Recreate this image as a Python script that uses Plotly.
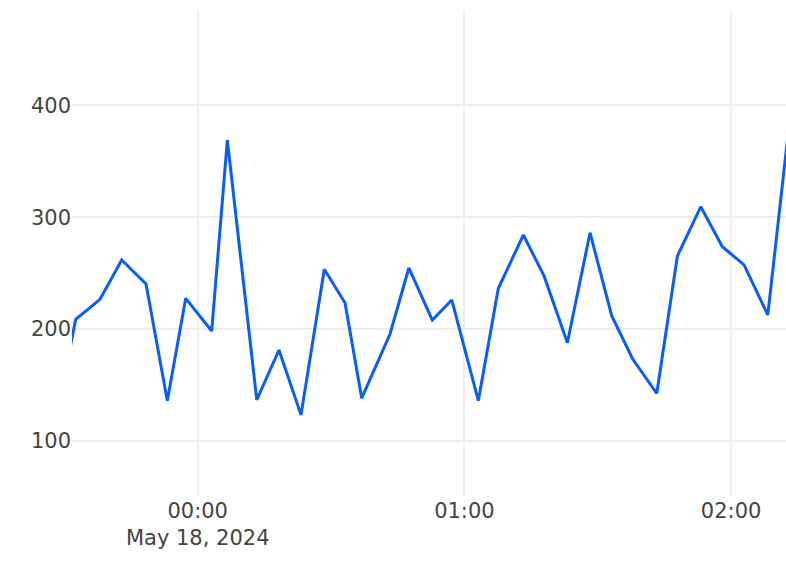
import plotly.graph_objects as go

times = [
    "2024-05-17 23:27:36", "2024-05-17 23:32:33", "2024-05-17 23:38:01", "2024-05-17 23:42:54",
    "2024-05-17 23:48:22", "2024-05-17 23:53:10", "2024-05-17 23:57:18", "2024-05-18 00:03:09",
    "2024-05-18 00:06:40", "2024-05-18 00:13:17", "2024-05-18 00:18:17", "2024-05-18 00:23:14",
    "2024-05-18 00:28:29", "2024-05-18 00:33:08", "2024-05-18 00:36:54", "2024-05-18 00:43:16",
    "2024-05-18 00:47:30", "2024-05-18 00:52:47", "2024-05-18 00:57:09", "2024-05-18 01:03:08",
    "2024-05-18 01:07:38", "2024-05-18 01:13:16", "2024-05-18 01:17:55", "2024-05-18 01:23:10",
    "2024-05-18 01:28:16", "2024-05-18 01:33:09", "2024-05-18 01:37:53", "2024-05-18 01:43:17",
    "2024-05-18 01:47:55", "2024-05-18 01:53:11", "2024-05-18 01:58:02", "2024-05-18 02:02:55",
    "2024-05-18 02:08:15", "2024-05-18 02:13:02",
]
values = [
    108, 208.8, 226.6, 261.8, 240.3, 136.0, 227.5, 198.3,
    369.0, 136.7, 181.3, 123.3, 253.4, 223.6, 138.2, 195.6,
    254.6, 208.1, 226.0, 136.0, 236.5, 284.1, 247.5, 187.8,
    286.1, 211.7, 173.0, 142.6, 265.3, 309.4, 273.6, 257.3,
    212.6, 382,
]

x_range = ["2024-05-17 23:31:43", "2024-05-18 02:12:21"]
y_range = [50.8, 485.2]

fig = go.Figure(go.Scatter(
    x=times, y=values, mode="lines",
    line=dict(color="#0a5ff0", width=3),
    showlegend=False,
))

fig.update_layout(
    width=786, height=582,
    margin=dict(l=72, r=0, t=10, b=86, autoexpand=False),
    paper_bgcolor="white", plot_bgcolor="white",
    font=dict(family="Verdana, DejaVu Sans, sans-serif", size=21, color="#444"),
)
fig.update_xaxes(
    range=x_range, type="date",
    tick0="2024-05-18 00:00:00", dtick=3600000,
    showgrid=True, gridcolor="#eeeeee", gridwidth=2,
    zeroline=False, showline=False, ticks="", automargin=False,
)
fig.update_yaxes(
    range=y_range, dtick=100,
    showgrid=True, gridcolor="#eeeeee", gridwidth=2,
    zeroline=False, showline=False, ticks="", automargin=False,
)

fig.write_html(
    "out.html",
    config={"displayModeBar": False},
    post_script="document.body.style.margin='0';document.body.style.overflow='hidden';",
)
